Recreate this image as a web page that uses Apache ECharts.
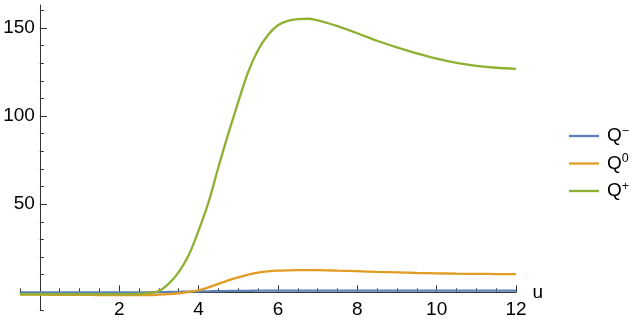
<!DOCTYPE html>
<html><head><meta charset="utf-8">
<script src="https://cdn.jsdelivr.net/npm/echarts@6/dist/echarts.min.js"></script>
<style>html,body{margin:0;padding:0;background:#fff}#c{width:640px;height:323px}</style>
</head><body><div id="c"></div>
<script>
// u values and series values
const uValues = [-0.5,0,0.5,1,1.5,2,2.5,2.75,3,3.25,3.5,3.75,4,4.25,4.5,4.75,5,5.25,5.5,5.75,6,6.25,6.5,6.75,7,7.25,7.5,8,8.5,9,9.5,10,10.5,11,11.5,12];
const qMinus = [0,0,0,0,0,0,0,0.05,0.1,0.2,0.3,0.4,0.5,0.6,0.7,0.8,0.85,0.9,0.95,1,1,1,1,1,1,1,1,1,1,1,1,1,1,1,1,1];
const qZero  = [-1.3,-1.3,-1.4,-1.4,-1.5,-1.5,-1.5,-1.5,-1.3,-1,-0.5,0.2,1.2,2.8,4.8,6.8,8.5,10,11.2,11.9,12.3,12.5,12.6,12.6,12.6,12.5,12.3,12,11.6,11.3,11,10.8,10.6,10.5,10.4,10.3];
const qPlus  = [-1,-1,-1,-1,-1,-1,-0.8,-0.3,0.8,5,11.5,21,35,51,71,90,108,125,137.5,146,151.5,154,155,155.2,154.3,152.8,151,147,142.7,139,135.6,132.6,130.2,128.5,127.4,126.8];
const seriesNames = ['Q-','Q0','Q+'];
const seriesColors = ['#5E81B5','#E19C24','#8FB032'];
const xMajor = [0,2,4,6,8,10,12];
const xLabels = [2,4,6,8,10,12];
const xMinor = [-0.5,0.5,1,1.5,2.5,3,3.5,4.5,5,5.5,6.5,7,7.5,8.5,9,9.5,10.5,11,11.5];
const yMajor = [0,50,100,150];
const yLabels = [50,100,150];
const yMinor = [-10,10,20,30,40,60,70,80,90,110,120,130,140,160];

const X_MIN = -0.5, X_MAX = 12, Y_MIN = -10, Y_MAX = 163;
const G = {left:20, top:5, width:496, height:305};
const yAxisOffset = -G.width * (0 - X_MIN) / (X_MAX - X_MIN);
const xAxisOffset = -G.height * (0 - Y_MIN) / (Y_MAX - Y_MIN);

const chart = echarts.init(document.getElementById('c'), null, {renderer:'canvas'});
const lineCol = '#333';
const font = 'Liberation Sans, Arial, sans-serif';
const mk = (name, arr, i) => ({
  name, type:'line', xAxisIndex:0, yAxisIndex:0, showSymbol:false, symbol:'none', smooth:0.35,
  data: uValues.map((u,k)=>[u,arr[k]]),
  lineStyle:{color:seriesColors[i], width:2.3}, itemStyle:{color:seriesColors[i]}, z:3+i
});
const supMap = {'Q-':'−','Q0':'0','Q+':'+'};
chart.setOption({
  animation:false,
  grid:Object.assign({outerBoundsMode:'none', containLabel:false}, G),
  legend:{
    orient:'vertical', left:564, top:120, icon:'rect', itemWidth:30, itemHeight:2.3, itemGap:7,
    data:seriesNames,
    formatter: n => '{q|Q}{s|' + supMap[n] + '}',
    textStyle:{fontFamily:font, fontSize:19, color:'#000', rich:{
      q:{fontFamily:font, fontSize:19, color:'#000', lineHeight:22, padding:[0,0,0,3]},
      s:{fontFamily:font, fontSize:12.5, color:'#000', verticalAlign:'top', lineHeight:12}
    }}
  },
  xAxis:[{
    type:'value', min:X_MIN, max:X_MAX, position:'bottom', offset:xAxisOffset,
    name:'u', nameLocation:'end', nameGap:10,
    nameTextStyle:{fontFamily:font, fontSize:19, color:'#000', verticalAlign:'middle', padding:[9,0,0,0]},
    axisLine:{show:true, onZero:false, lineStyle:{color:lineCol, width:1}},
    axisTick:{show:true, inside:true, length:7, customValues:xMajor, lineStyle:{color:lineCol, width:1}},
    axisLabel:{show:true, customValues:xLabels, fontFamily:font, fontSize:19, color:'#000', margin:8},
    splitLine:{show:false}
  },{
    type:'value', min:X_MIN, max:X_MAX, position:'bottom', offset:xAxisOffset,
    axisLine:{show:false, onZero:false},
    axisTick:{show:true, inside:true, length:4, customValues:xMinor, lineStyle:{color:lineCol, width:1}},
    axisLabel:{show:false}, splitLine:{show:false}
  }],
  yAxis:[{
    type:'value', min:Y_MIN, max:Y_MAX, position:'left', offset:yAxisOffset,
    axisLine:{show:true, onZero:false, lineStyle:{color:lineCol, width:1}},
    axisTick:{show:true, inside:true, length:7, customValues:yMajor, lineStyle:{color:lineCol, width:1}},
    axisLabel:{show:true, customValues:yLabels, fontFamily:font, fontSize:19, color:'#000', margin:5},
    splitLine:{show:false}
  },{
    type:'value', min:Y_MIN, max:Y_MAX, position:'left', offset:yAxisOffset,
    axisLine:{show:false, onZero:false},
    axisTick:{show:true, inside:true, length:4, customValues:yMinor, lineStyle:{color:lineCol, width:1}},
    axisLabel:{show:false}, splitLine:{show:false}
  }],
  series:[mk(seriesNames[0], qMinus, 0), mk(seriesNames[1], qZero, 1), mk(seriesNames[2], qPlus, 2)]
});
</script></body></html>
